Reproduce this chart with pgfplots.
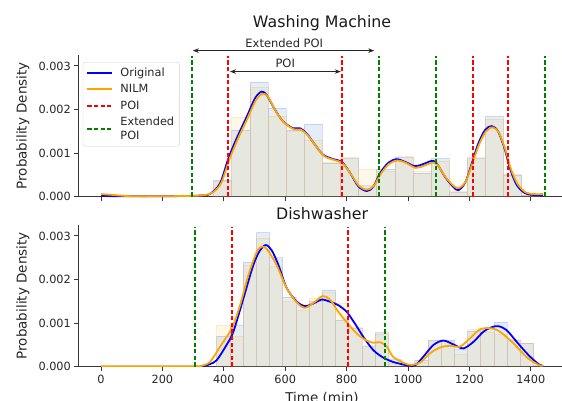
\documentclass[border=0pt]{standalone}
\usepackage{pgfplots}
\pgfplotsset{compat=1.18}
\usepackage{fontspec}
\setmainfont{DejaVu Sans}
\usetikzlibrary{arrows.meta}
\definecolor{mplorange}{RGB}{255,165,0}
\definecolor{mplgreen}{RGB}{0,128,0}
\definecolor{mplblue}{RGB}{0,0,255}
\definecolor{histblue}{RGB}{31,119,180}
\definecolor{spine}{RGB}{55,55,55}

\pgfplotsset{
  myaxis/.style={
    scale only axis, width=486.3bp, height=141.7bp,
    xmin=-72, xmax=1512, ymin=0, ymax=0.00325,
    axis x line*=bottom, axis y line*=left,
    axis line style={spine, line width=0.9bp},
    tick align=outside, major tick length=4.5bp,
    every tick/.style={spine, line width=0.9bp},
    xtick={0,200,400,600,800,1000,1200,1400},
    ytick={0,0.001,0.002,0.003},
    yticklabels={0.000,0.001,0.002,0.003},
    scaled y ticks=false,
    tick label style={font=\fontsize{11.3bp}{13bp}\selectfont, text=black!85},
    /pgf/number format/assume math mode=true,
    every axis title/.style={font=\fontsize{15.8bp}{18bp}\selectfont, anchor=center, text=black!90},
    every axis y label/.style={at={(-0.115,0.5)}, rotate=90, anchor=center, font=\fontsize{13.5bp}{16bp}\selectfont, text=black!85},
    every axis x label/.style={at={(0.5,-0.222)}, anchor=center, font=\fontsize{13.5bp}{16bp}\selectfont, text=black!85},
    ylabel={Probability Density},
  },
  hblue/.style={ybar interval, fill=histblue, fill opacity=0.12, draw=mplblue, draw opacity=0.13, line width=0.6bp, forget plot},
  horange/.style={ybar interval, fill=mplorange, fill opacity=0.09, draw=mplorange, draw opacity=0.2, line width=0.6bp, forget plot},
  cblue/.style={mplblue, line width=1.8bp, smooth, tension=0.5, no marks, forget plot},
  corange/.style={mplorange, line width=1.8bp, smooth, tension=0.5, no marks, forget plot},
  vred/.style={red, line width=2bp, dash pattern=on 4.2bp off 2.4bp, no marks, forget plot},
  vgreen/.style={mplgreen, line width=2bp, dash pattern=on 4.2bp off 2.4bp, no marks, forget plot},
}

\begin{document}
\begin{tikzpicture}
\useasboundingbox (0,0) rectangle (562bp,401bp);

% ---------------- Washing Machine ----------------
\begin{axis}[myaxis, at={(78.9bp,204.3bp)}, anchor=south west,
  xticklabels={}, clip=false,
  title={Washing Machine}, title style={at={(0.5,1.226)}},
  legend style={at={(0.008,0.95)}, anchor=north west, draw=black!18, rounded corners=2.5bp,
    fill=white, font=\fontsize{11.3bp}{13.5bp}\selectfont,
    cells={anchor=west, align=left}, inner sep=3.5bp, row sep=2.6bp, text=black!85},
  legend image code/.code={\draw[#1] (0bp,0bp) -- (25bp,0bp); \path (30bp,0bp);},
]
\addlegendimage{mplblue, line width=2bp}
\addlegendentry{Original}
\addlegendimage{draw=mplorange, line width=2bp}
\addlegendentry{NILM}
\addlegendimage{red, line width=2bp, dash pattern=on 4.2bp off 2.4bp}
\addlegendentry{POI}
\addlegendimage{mplgreen, line width=2bp, dash pattern=on 4.2bp off 2.4bp}
\addlegendentry{Extended\\POI}

\addplot[hblue] coordinates {(367,0.00038) (426,0.00153) (485,0.00263) (544,0.00203) (603,0.00153) (662,0.00167) (721,0.00077) (780,0.00088) (839,0.00025) (898,0.00063) (957,0.00090) (1016,0.00054) (1075,0.00088) (1134,0.00010) (1193,0.00088) (1252,0.00184) (1311,0.00050) (1370,0.00003) (1429,0)};
\addplot[horange] coordinates {(367,0.00035) (426,0.00182) (485,0.00251) (544,0.00184) (603,0.00150) (662,0.00130) (721,0.00080) (780,0.00090) (839,0.00062) (898,0.00058) (957,0.00092) (1016,0.00058) (1075,0.00082) (1134,0.00012) (1193,0.00090) (1252,0.00178) (1311,0.00052) (1370,0.00004) (1429,0)};

\addplot[cblue] coordinates {(0,0.00002) (50,0.00001) (100,0.00001) (200,0.00001) (300,0.00002) (330,0.00003) (355,0.00006) (388,0.00031) (415,0.00088) (442,0.00134) (475,0.00184) (502,0.00226) (523,0.00241) (540,0.00233) (567,0.00199) (594,0.00172) (626,0.00157) (648,0.00157) (670,0.00145) (697,0.00119) (724,0.00096) (757,0.00086) (784,0.00080) (811,0.00055) (838,0.00024) (866,0.00013) (887,0.00023) (909,0.00054) (936,0.00078) (963,0.00086) (990,0.00080) (1023,0.00070) (1050,0.00075) (1077,0.00082) (1093,0.00077) (1120,0.00046) (1148,0.00022) (1164,0.00015) (1186,0.00032) (1208,0.00077) (1229,0.00122) (1251,0.00153) (1273,0.00162) (1294,0.00149) (1316,0.00107) (1332,0.00065) (1354,0.00027) (1381,0.00008) (1408,0.00004) (1440,0.00003)};
\addplot[corange] coordinates {(0,0.00006) (40,0.00004) (100,0.00001) (200,0.00001) (300,0.00002) (340,0.00004) (365,0.00010) (392,0.00032) (418,0.00085) (445,0.00131) (478,0.00181) (505,0.00222) (527,0.00236) (545,0.00228) (570,0.00195) (598,0.00169) (630,0.00154) (650,0.00154) (672,0.00142) (700,0.00116) (727,0.00093) (760,0.00084) (786,0.00077) (813,0.00053) (840,0.00025) (866,0.00016) (889,0.00025) (911,0.00052) (938,0.00075) (965,0.00083) (992,0.00078) (1025,0.00066) (1052,0.00071) (1080,0.00078) (1095,0.00074) (1122,0.00045) (1150,0.00024) (1166,0.00020) (1188,0.00035) (1210,0.00077) (1231,0.00119) (1253,0.00149) (1275,0.00159) (1296,0.00147) (1318,0.00106) (1334,0.00066) (1356,0.00030) (1383,0.00010) (1410,0.00006) (1440,0.00006)};
\addplot[vred] coordinates {(415,0) (415,0.00323)};
\addplot[vgreen] coordinates {(296,0) (296,0.00323)};
\addplot[vred] coordinates {(785,0) (785,0.00323)};
\addplot[vred] coordinates {(1212,0) (1212,0.00323)};
\addplot[vred] coordinates {(1327,0) (1327,0.00323)};
\addplot[vgreen] coordinates {(905,0) (905,0.00323)};
\addplot[vgreen] coordinates {(1091,0) (1091,0.00323)};
\addplot[vgreen] coordinates {(1445,0) (1445,0.00323)};

\draw[{Stealth[length=6bp,width=4.5bp]}-{Stealth[length=6bp,width=4.5bp]}, line width=0.8bp, black!85] (axis cs:299,0.00335) -- (axis cs:890,0.00335);
\node[font=\fontsize{11.5bp}{13bp}\selectfont, text=black!85] at (axis cs:597,0.00353) {Extended POI};
\draw[{Stealth[length=6bp,width=4.5bp]}-{Stealth[length=6bp,width=4.5bp]}, line width=0.8bp, black!85] (axis cs:420,0.00287) -- (axis cs:781,0.00287);
\node[font=\fontsize{11.5bp}{13bp}\selectfont, text=black!85] at (axis cs:600,0.00305) {POI};
\end{axis}

% ---------------- Dishwasher ----------------
\begin{axis}[myaxis, at={(78.9bp,34.3bp)}, anchor=south west,
  xticklabels={0,200,400,600,800,1000,1200,1400},
  title={Dishwasher}, title style={at={(0.5,1.08)}},
  xlabel={Time (min)},
]
\addplot[hblue] coordinates {(377,0.00070) (420,0.00095) (463,0.00240) (506,0.00308) (549,0.00250) (592,0.00160) (635,0.00140) (678,0.00150) (721,0.00176) (764,0.00107) (807,0.00088) (850,0.00046) (893,0.00078) (936,0.00017) (979,0.00003) (1022,0.00015) (1065,0.00061) (1108,0.00061) (1151,0.00040) (1194,0.00082) (1237,0.00085) (1280,0.00102) (1323,0.00060) (1366,0.00054) (1409,0.00003) (1440,0)};
\addplot[horange] coordinates {(377,0.00095) (420,0.00070) (463,0.00232) (506,0.00295) (549,0.00230) (592,0.00150) (635,0.00130) (678,0.00158) (721,0.00170) (764,0.00145) (807,0.00090) (850,0.00048) (893,0.00075) (936,0.00008) (979,0.00005) (1022,0.00010) (1065,0.00060) (1108,0.00059) (1151,0.00028) (1194,0.00085) (1237,0.00080) (1280,0.00075) (1323,0.00062) (1366,0.00054) (1409,0.00002) (1440,0)};

\addplot[cblue] coordinates {(0,0) (300,0) (333,0.00001) (355,0.00006) (377,0.00015) (409,0.00050) (431,0.00080) (464,0.00157) (496,0.00233) (518,0.00267) (537,0.00279) (556,0.00267) (578,0.00233) (605,0.00180) (638,0.00149) (665,0.00139) (692,0.00145) (719,0.00154) (746,0.00149) (773,0.00141) (800,0.00126) (827,0.00099) (854,0.00069) (887,0.00038) (919,0.00021) (951,0.00011) (985,0.00005) (1005,0.00002) (1025,0.00004) (1050,0.00023) (1083,0.00050) (1115,0.00060) (1148,0.00051) (1180,0.00042) (1213,0.00057) (1245,0.00080) (1270,0.00090) (1294,0.00093) (1321,0.00084) (1354,0.00057) (1392,0.00027) (1425,0.00006) (1440,0.00002)};
\addplot[corange] coordinates {(0,0.00001) (300,0.00001) (326,0.00002) (355,0.00011) (388,0.00046) (426,0.00088) (453,0.00141) (480,0.00210) (507,0.00263) (523,0.00275) (540,0.00270) (572,0.00233) (605,0.00180) (638,0.00147) (665,0.00135) (697,0.00149) (722,0.00162) (746,0.00154) (773,0.00126) (806,0.00097) (838,0.00073) (865,0.00060) (887,0.00055) (909,0.00056) (931,0.00046) (951,0.00023) (985,0.00009) (1010,0.00004) (1040,0.00010) (1072,0.00031) (1104,0.00044) (1137,0.00048) (1169,0.00046) (1202,0.00065) (1235,0.00086) (1273,0.00088) (1300,0.00080) (1343,0.00054) (1386,0.00022) (1425,0.00004) (1440,0.00002)};
\addplot[vred] coordinates {(427,0) (427,0.00321)};
\addplot[vred] coordinates {(805,0) (805,0.00321)};
\addplot[vgreen] coordinates {(305,0) (305,0.00321)};
\addplot[vgreen] coordinates {(925,0) (925,0.00321)};
\end{axis}
\end{tikzpicture}
\end{document}
